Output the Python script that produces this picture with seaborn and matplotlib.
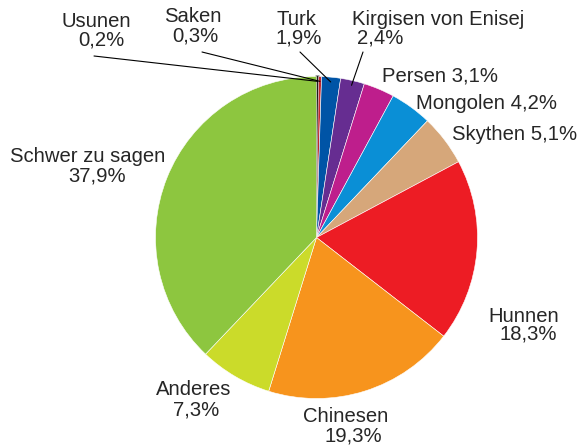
import matplotlib
matplotlib.use("Agg")
import matplotlib.pyplot as plt
import numpy as np
import seaborn as sns

# data
groups = ["Usunen", "Saken", "Turk", "Kirgisen von Enisej", "Persen", "Mongolen",
          "Skythen", "Hunnen", "Chinesen", "Anderes", "Schwer zu sagen"]
shares = [0.2, 0.3, 1.9, 2.4, 3.1, 4.2, 5.1, 18.3, 19.3, 7.3, 37.9]
colors = ["#1a1a1a", "#c1272d", "#0054a6", "#662d91", "#be1e8c", "#0a8fd6",
          "#d6a77a", "#ed1c24", "#f7941d", "#cbdb2a", "#8dc63f"]

sns.set_theme(style="white")
plt.rcParams["font.family"] = ["Liberation Sans", "DejaVu Sans"]

W, H = 583, 445


def px(x, y):
    # image pixel coords -> data coords (y up)
    return x, H - y


def pct(v):
    return f"{v:.1f}".replace(".", ",") + "%"


fig = plt.figure(figsize=(W / 100, H / 100), dpi=100)
ax = fig.add_axes([0, 0, 1, 1])

cx, cy = px(316.5, 237.5)
R = 161
wedges, _ = ax.pie(shares, colors=sns.color_palette(colors), startangle=90,
                   counterclock=False, center=(cx, cy), radius=R, frame=True,
                   wedgeprops=dict(linewidth=0.4, edgecolor="white"))
wedges[0].set_edgecolor("#1a1a1a")
wedges[0].set_linewidth(1.3)

fs = 14.6
# label layout: (line1, line2, x1, baseline1, x2, baseline2, ha)
lines = {
    "Usunen": (96, 27, 101, 46),
    "Saken": (193, 22, 195, 42),
    "Turk": (296, 25, 299, 43),
    "Anderes": (194, 395, 196, 415),
    "Chinesen": (346, 422, 353, 442),
    "Hunnen": (524, 322, 528, 340),
    "Schwer zu sagen": (87.5, 162, 97, 182),
}
for name, (x1, y1, x2, y2) in lines.items():
    v = shares[groups.index(name)]
    ax.text(*px(x1, y1), name, ha="center", va="baseline", fontsize=fs)
    ax.text(*px(x2, y2), pct(v), ha="center", va="baseline", fontsize=fs)

# Kirgisen: first line left aligned, value indented
v = shares[groups.index("Kirgisen von Enisej")]
ax.text(*px(352, 25), "Kirgisen von Enisej", ha="left", va="baseline", fontsize=fs)
ax.text(*px(357, 43), pct(v), ha="left", va="baseline", fontsize=fs)

# single line labels
single = {"Persen": (382, 82), "Mongolen": (416, 109), "Skythen": (452, 140)}
for name, (x, y) in single.items():
    v = shares[groups.index(name)]
    ax.text(*px(x, y), f"{name} {pct(v)}", ha="left", va="baseline", fontsize=fs)

# leader lines
starts = {"Usunen": (94, 56), "Saken": (202, 52), "Turk": (300, 52),
          "Kirgisen von Enisej": (363, 52)}
for name, (sx, sy) in starts.items():
    w = wedges[groups.index(name)]
    a = np.deg2rad((w.theta1 + w.theta2) / 2)
    ex, ey = cx + 0.97 * R * np.cos(a), cy + 0.97 * R * np.sin(a)
    ax.plot([sx, ex], [H - sy, ey], color="black", lw=0.8)

ax.set_xlim(0, W)
ax.set_ylim(0, H)
ax.set_aspect("equal")
ax.axis("off")
fig.savefig("out.png", dpi=100, facecolor="white")
